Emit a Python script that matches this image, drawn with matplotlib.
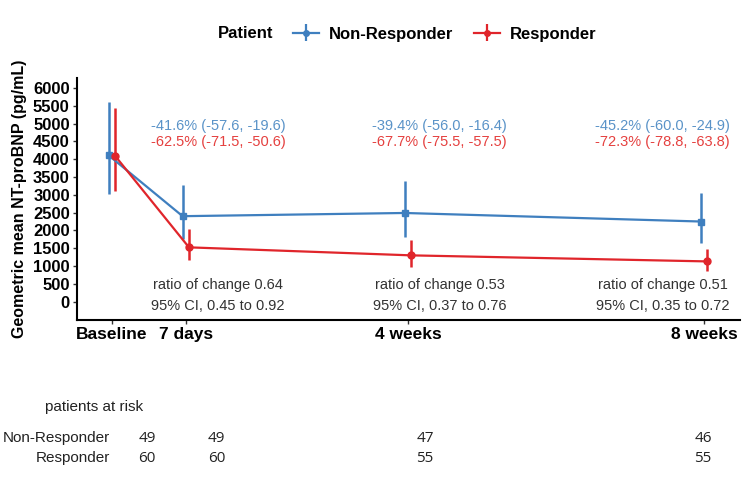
import numpy as np
import matplotlib
matplotlib.use('Agg')
import matplotlib.pyplot as plt

plt.rcParams['font.family'] = ['Liberation Sans', 'DejaVu Sans']

# ------------------------------------------
# Data
# ------------------------------------------
days = np.array([0, 7, 28, 56])
tick_labels = ['Baseline', '7 days', '4 weeks', '8 weeks']

nonresp_mean = np.array([4110, 2400, 2490, 2250])
nonresp_lo = np.array([3030, 1760, 1810, 1640])
nonresp_hi = np.array([5620, 3280, 3400, 3060])

resp_mean = np.array([4100, 1525, 1300, 1130])
resp_lo = np.array([3100, 1160, 970, 850])
resp_hi = np.array([5430, 2030, 1730, 1470])

nonresp_pct = ['-41.6% (-57.6, -19.6)', '-39.4% (-56.0, -16.4)', '-45.2% (-60.0, -24.9)']
resp_pct = ['-62.5% (-71.5, -50.6)', '-67.7% (-75.5, -57.5)', '-72.3% (-78.8, -63.8)']
ratio_text = ['ratio of change 0.64', 'ratio of change 0.53', 'ratio of change 0.51']
ci_text = ['95% CI, 0.45 to 0.92', '95% CI, 0.37 to 0.76', '95% CI, 0.35 to 0.72']

at_risk_nonresp = [49, 49, 47, 46]
at_risk_resp = [60, 60, 55, 55]

blue = '#3f7fbf'
red = '#e0252b'
blue_txt = '#5a93c8'
red_txt = '#e5403f'

# ------------------------------------------
# Main plot
# ------------------------------------------
fig = plt.figure(figsize=(7.5, 5), dpi=100)
ax = fig.add_axes([0.1023, 0.36, 0.8844, 0.484])

dodge = 0.3
ax.errorbar(days - dodge, nonresp_mean,
            yerr=[nonresp_mean - nonresp_lo, nonresp_hi - nonresp_mean],
            color=blue, marker='s', markersize=5, linewidth=1.6,
            elinewidth=1.8, capsize=0)
ax.errorbar(days + dodge, resp_mean,
            yerr=[resp_mean - resp_lo, resp_hi - resp_mean],
            color=red, marker='o', markersize=5, linewidth=1.6,
            elinewidth=1.8, capsize=0)

# legend proxies (round markers, as in the legend of the reference)
h1 = ax.errorbar([np.nan], [np.nan], yerr=[[np.nan], [np.nan]], color=blue, marker='o',
                 markersize=4, linewidth=1.6, elinewidth=1.6, label='Non-Responder')
h2 = ax.errorbar([np.nan], [np.nan], yerr=[[np.nan], [np.nan]], color=red, marker='o',
                 markersize=4, linewidth=1.6, elinewidth=1.6, label='Responder')

# annotations above / below each follow-up point
text_x = [10.05, 31.0, 52.1]
for i, x in enumerate(text_x):
    ax.text(x, 4935, nonresp_pct[i], color=blue_txt, fontsize=10.5, ha='center', va='center')
    ax.text(x, 4490, resp_pct[i], color=red_txt, fontsize=10.5, ha='center', va='center')
    ax.text(x, 470, ratio_text[i], color='#333333', fontsize=10.5, ha='center', va='center')
    ax.text(x, -120, ci_text[i], color='#333333', fontsize=10.5, ha='center', va='center')

ax.set_xlim(-3.31, 59.4)
ax.set_ylim(-515, 6280)
ax.set_yticks(np.arange(0, 6001, 500))
ax.set_xticks(days)
ax.set_xticklabels(tick_labels)
for lab in ax.get_yticklabels():
    lab.set_fontweight('bold')
    lab.set_fontsize(12)
for lab in ax.get_xticklabels():
    lab.set_fontweight('bold')
    lab.set_fontsize(12.5)
ax.tick_params(axis='both', length=3, width=1, color='#333333', pad=2)
ax.set_ylabel('Geometric mean NT-proBNP (pg/mL)', fontsize=11.5, fontweight='bold', labelpad=4)
for side in ['top', 'right']:
    ax.spines[side].set_visible(False)
for side in ['left', 'bottom']:
    ax.spines[side].set_linewidth(1.5)

# legend on top
fig.text(0.291, 0.932, 'Patient', fontsize=12, fontweight='bold', ha='left', va='center')
fig.legend(handles=[h1, h2], loc='center left', bbox_to_anchor=(0.37, 0.932),
           ncol=2, frameon=False, handlelength=1.6, handletextpad=0.6, columnspacing=1.2,
           prop={'weight': 'bold', 'size': 12})

# ------------------------------------------
# Patients at risk table
# ------------------------------------------
tab = fig.add_axes([147 / 750, 0.0, (703 - 147) / 750, 0.2])
tab.set_xlim(0, 56)
tab.set_ylim(0, 100)
tab.axis('off')
fig.text(45 / 750, 1 - 407 / 500, 'patients at risk', fontsize=11, color='#222222', ha='left', va='center')
fig.text(110 / 750, 1 - 438 / 500, 'Non-Responder', fontsize=11, color='#222222', ha='right', va='center')
fig.text(110 / 750, 1 - 458 / 500, 'Responder', fontsize=11, color='#222222', ha='right', va='center')
for d, n1, n2 in zip(days, at_risk_nonresp, at_risk_resp):
    tab.text(d, 62, str(n1), fontsize=11, color='#222222', ha='center', va='center',
             family=['Open Sans', 'DejaVu Sans'])
    tab.text(d, 42, str(n2), fontsize=11, color='#222222', ha='center', va='center',
             family=['Open Sans', 'DejaVu Sans'])

fig.savefig('out.png', dpi=100, facecolor='white')
